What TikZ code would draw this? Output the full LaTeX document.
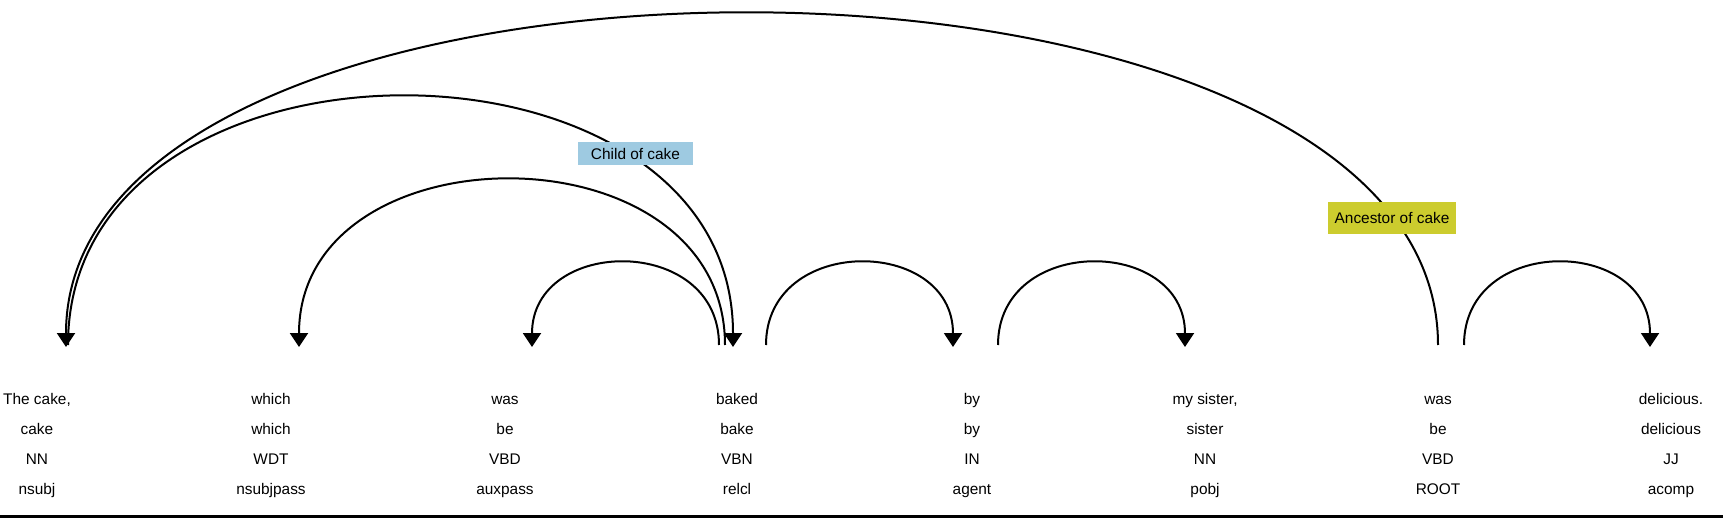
\documentclass[tikz,border=0pt]{standalone}
\usepackage{fontspec}
\setmainfont{Liberation Sans}
\usetikzlibrary{arrows.meta}

\definecolor{childblue}{RGB}{158,202,225}
\definecolor{ancyellow}{RGB}{204,204,46}

\begin{document}
\begin{tikzpicture}[x=0.5pt, y=-0.5pt,
  tok/.style={align=center, anchor=base, inner sep=0pt, font=\fontsize{7.7pt}{15pt}\selectfont},
  arc/.style={line width=1pt},
  dep/.style={arc, -{Triangle[width=9pt, length=7pt]}},
  tag/.style={inner sep=0pt, font=\fontsize{7.7pt}{9pt}\selectfont}]
% Set the size of the figure
\useasboundingbox (0,0) rectangle (1723,518);

% Words: token, lemma, tag, dependency (base is the last line)
\node[tok] (cake) at (37,494) {The cake,\\cake\\NN\\nsubj};
\node[tok] (which) at (271,494) {which\\which\\WDT\\nsubjpass};
\node[tok] (was) at (505,494) {was\\be\\VBD\\auxpass};
\node[tok] (baked) at (737,494) {baked\\bake\\VBN\\relcl};
\node[tok] (by) at (972,494) {by\\by\\IN\\agent};
\node[tok] (sister) at (1205,494) {my sister,\\sister\\NN\\pobj};
\node[tok] (root) at (1438,494) {was\\be\\VBD\\ROOT};
\node[tok] (delicious) at (1671,494) {delicious.\\delicious\\JJ\\acomp};

% Arc ends above the words
\coordinate (cake-in) at (66,347);
\coordinate (cake-out) at (68,345);
\coordinate (which-in) at (299,347);
\coordinate (was-in) at (532,347);
\coordinate (baked-o1) at (719,345);
\coordinate (baked-o2) at (725,345);
\coordinate (baked-in) at (733,347);
\coordinate (baked-o3) at (766,345);
\coordinate (by-in) at (953,347);
\coordinate (by-out) at (998,345);
\coordinate (sister-in) at (1185,347);
\coordinate (root-o1) at (1438,345);
\coordinate (root-o2) at (1464,345);
\coordinate (delicious-in) at (1650,347);

% Draw the arcs
\draw[dep] (baked-o1) .. controls +(0,-110.7) and +(0,-110.7) .. (was-in);
\draw[dep] (baked-o2) .. controls +(0,-221.3) and +(0,-221.3) .. (which-in);
\draw[dep] (cake-out) .. controls +(0,-332) and +(0,-332) .. (baked-in);
\draw[dep] (root-o1) .. controls +(0,-442.7) and +(0,-442.7) .. (cake-in);
\draw[dep] (baked-o3) .. controls +(0,-110.7) and +(0,-110.7) .. (by-in);
\draw[dep] (by-out) .. controls +(0,-110.7) and +(0,-110.7) .. (sister-in);
\draw[dep] (root-o2) .. controls +(0,-110.7) and +(0,-110.7) .. (delicious-in);

% Highlight labels
\node[tag, fill=childblue, minimum width=57.5pt, minimum height=11.5pt] (child) at (635.5,153.5) {Child of cake};
\node[tag, fill=ancyellow, minimum width=64pt, minimum height=16pt] (ancestor) at (1392,218) {Ancestor of cake};

% Bottom rule
\draw[line width=1.5pt] (0,516) -- (1723,516);
\end{tikzpicture}
\end{document}
